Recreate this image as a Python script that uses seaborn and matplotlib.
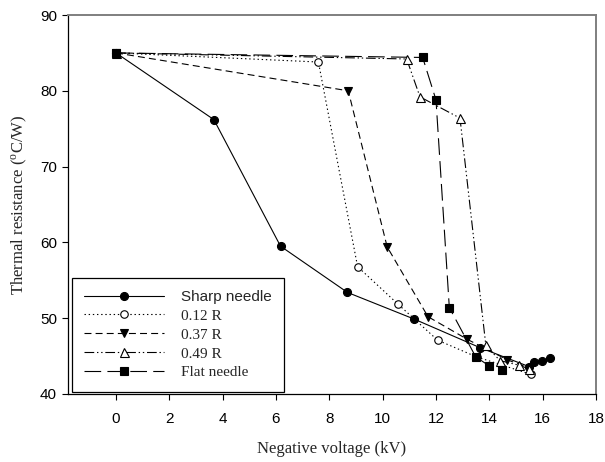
import matplotlib
matplotlib.use("Agg")
import matplotlib.pyplot as plt
import seaborn as sns
import pandas as pd
from matplotlib.lines import Line2D

sns.set_theme(style="white")
plt.rcParams["font.family"] = ["Liberation Sans", "DejaVu Sans"]
plt.rcParams["mathtext.fontset"] = "custom"
plt.rcParams["mathtext.rm"] = "Liberation Serif"
plt.rcParams["mathtext.it"] = "Liberation Serif:italic"
plt.rcParams["lines.scale_dashes"] = False

# Thermal resistance vs. negative voltage for each electrode tip
sharp_v = [0, 3.67, 6.17, 8.68, 11.17, 13.66, 15.5, 15.69, 15.97, 16.27]
sharp_r = [85.0, 76.2, 59.5, 53.4, 49.9, 46.1, 43.6, 44.2, 44.4, 44.7]

r012_v = [0, 7.59, 9.06, 10.56, 12.06, 13.52, 15.55]
r012_r = [85.0, 83.8, 56.8, 51.9, 47.1, 44.9, 42.6]

r037_v = [0, 8.71, 10.17, 11.70, 13.18, 14.68, 15.52]
r037_r = [85.0, 80.0, 59.4, 50.2, 47.2, 44.5, 43.4]

r049_v = [0, 10.9, 11.4, 12.9, 13.87, 14.4, 15.11, 15.5]
r049_r = [85.0, 84.2, 79.2, 76.4, 46.4, 44.4, 43.8, 43.3]

flat_v = [0, 11.5, 12.0, 12.5, 13.49, 14.0, 14.49]
flat_r = [85.0, 84.4, 78.8, 51.4, 44.9, 43.7, 43.2]

labels = ["Sharp needle", "0.12 R", "0.37 R", "0.49 R", "Flat needle"]
x_ticks = [0, 2, 4, 6, 8, 10, 12, 14, 16, 18]
y_ticks = [40, 50, 60, 70, 80, 90]

series = [
    (sharp_v, sharp_r, "o", "black", (None, None), 8.0),
    (r012_v, r012_r, "o", "white", (1, 2), 7.5),
    (r037_v, r037_r, "v", "black", (5, 3), 8.5),
    (r049_v, r049_r, "^", "white", (7, 2, 1, 2, 1, 2), 9.0),
    (flat_v, flat_r, "s", "black", (12, 4.5), 7.5),
]

fig = plt.figure(figsize=(6.05, 4.62), dpi=100)
ax = fig.add_axes([0.1124, 0.1472, 0.8727, 0.8203])

handles = []
for (xv, yv, mk, fc, dash, ms), lab in zip(series, labels):
    df = pd.DataFrame({"v": xv, "r": yv})
    sns.lineplot(data=df, x="v", y="r", ax=ax, sort=False, estimator=None,
                 color="black", linewidth=0.8, legend=False)
    line = ax.lines[-1]
    if dash[0] is not None:
        line.set_dashes(dash)
    ax.plot(xv, yv, linestyle="none", marker=mk, markersize=ms * 0.72,
            markerfacecolor=fc, markeredgecolor="black", markeredgewidth=0.8,
            zorder=3)
    h = Line2D([], [], color="black", linewidth=0.8, marker=mk,
               markersize=ms * 0.72, markerfacecolor=fc,
               markeredgecolor="black", markeredgewidth=0.8)
    if dash[0] is not None:
        h.set_dashes(dash)
    handles.append(h)

ax.set_xlim(-1.8, 18)
ax.set_ylim(40, 90)
ax.set_xticks(x_ticks)
ax.set_yticks(y_ticks)
ax.tick_params(axis="both", which="both", direction="out", length=4, width=0.8,
               labelsize=11, colors="black", bottom=True, left=True,
               top=False, right=False, pad=4)
ax.tick_params(axis="x", pad=9)

for side in ["left", "bottom"]:
    ax.spines[side].set_color("black")
    ax.spines[side].set_linewidth(0.9)
for side in ["top", "right"]:
    ax.spines[side].set_color("#7f7f7f")
    ax.spines[side].set_linewidth(1.4)

ax.set_xlabel("Negative voltage (kV)", fontfamily="Liberation Serif",
              fontsize=12, labelpad=11)
ax.set_ylabel(r"Thermal resistance ($^{\mathrm{o}}$C/W)",
              fontfamily="Liberation Serif", fontsize=12, labelpad=8)

leg = ax.legend(handles, labels, loc="lower left",
                bbox_to_anchor=(0.008, 0.006), fontsize=11, frameon=True,
                fancybox=False, edgecolor="black", framealpha=1,
                handlelength=5.2, handletextpad=1.15, labelspacing=0.34,
                borderpad=0.8, borderaxespad=0)
leg.get_frame().set_linewidth(0.9)
for i, t in enumerate(leg.get_texts()):
    t.set_fontfamily("Liberation Sans" if i == 0 else "Liberation Serif")

fig.savefig("out.png", dpi=100)
